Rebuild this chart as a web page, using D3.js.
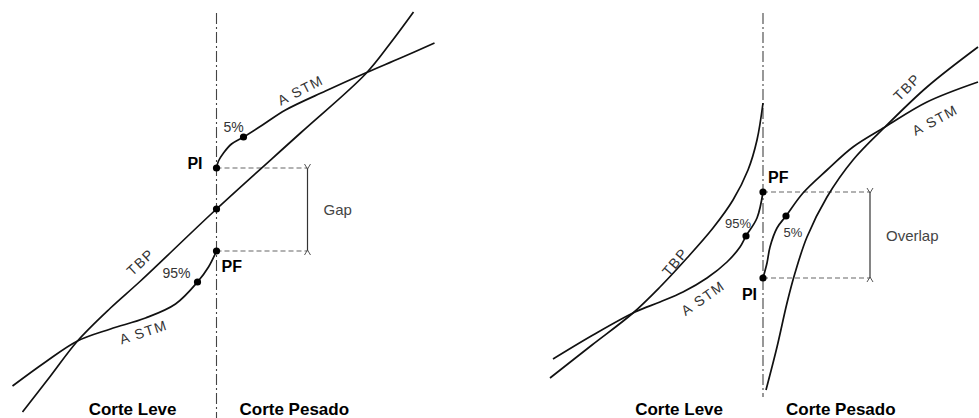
<!DOCTYPE html>
<html>
<head>
<meta charset="utf-8">
<script src="https://cdn.jsdelivr.net/npm/d3@7"></script>
<style>
  html, body { margin: 0; padding: 0; background: #fff; }
  svg { display: block; }
  text { font-family: "Liberation Sans", Arial, Helvetica, sans-serif; }
</style>
</head>
<body>
<svg id="chart" width="979" height="418"></svg>
<script>
// ---- Data: [offset from cut point, temperature level] (arbitrary units) ----
// Left panel (Gap)
const gapTBP = [[-194,6],[-166,42],[-139,77],[-106,110],[-76,137],[0,209],[84,285],[149,344],[174,375],[197,406]];
const gapASTMLight = [[-204,32],[-171,56],[-139,77],[-106,89],[-71,100],[-41,114],[-19,136],[-8,151],[0,167]];
const gapASTMHeavy = [[0,250],[2,257],[7,265],[15,274],[27,281],[46,293],[69,308],[109,327],[149,345],[184,360],[218,375]];
const gapDots = [[0,250],[0,209],[0,167],[27,281],[-19,136]];
const gapPI = 250, gapPF = 167, gapBracketX = 91;

// Right panel (Overlap)
const ovTBPLight = [[-213,40],[-171,73],[-130,105],[-103,131],[-76,160],[-50,190],[-30,218],[-15,248],[-6,278],[0,315]];
const ovASTMLight = [[-210,59],[-170,83],[-128,106],[-103,116],[-80,126],[-56,140],[-36,156],[-23,171],[-17,182],[-6,200],[0,226]];
const ovASTMHeavy = [[0,140],[4,155],[7,171],[14,190],[23,202],[40,225],[64,248],[90,271],[122,291],[164,316],[215,336]];
const ovTBPHeavy = [[3,28],[14,71],[24,115],[32,145],[44,181],[64,221],[90,258],[122,291],[164,331],[215,371]];
const ovDots = [[0,226],[0,140],[-17,182],[23,202]];
const ovPF = 226, ovPI = 140, ovBracketX = 107;

// Labels: [text, x, y, rotation]
const gapLabelsCurve = [["TBP",-76,156,-43],["A STM",84,328,-27],["A STM",-73,86,-18]];
const gapLabelsPct = [["5%",17,291],["95%",-40,145]];
const ovLabelsCurve = [["TBP",-88,156,-50],["A STM",-60,120,-35],["TBP",144,331,-45],["A STM",172,298,-28]];
const ovLabelsPct = [["95%",-25,195],["5%",30,186]];
const sideLabels = ["Corte Leve", "Corte Pesado"];

// ---- Drawing ----
const svg = d3.select("#chart");
svg.append("rect").attr("width",979).attr("height",418).attr("fill","#fff");

function panel(cfg) {
  const x = d3.scaleLinear().domain([-220, 270]).range([cfg.cut - 220, cfg.cut + 270]);
  const y = d3.scaleLinear().domain([0, 418]).range([418, 0]);
  const g = svg.append("g");
  const line = d3.line().x(d => x(d[0])).y(d => y(d[1])).curve(d3.curveCatmullRom.alpha(0.5));

  // cut line (dash-dot)
  g.append("line")
    .attr("x1", x(0)).attr("x2", x(0))
    .attr("y1", y(cfg.cutTop)).attr("y2", y(cfg.cutBottom))
    .attr("stroke", "#444").attr("stroke-width", 1.1)
    .attr("stroke-dasharray", "11,3,2,3");

  // dashed reference lines
  [cfg.hiLevel, cfg.loLevel].forEach(v => {
    g.append("line")
      .attr("x1", x(0)).attr("x2", x(cfg.bracketX))
      .attr("y1", y(v)).attr("y2", y(v))
      .attr("stroke", "#666").attr("stroke-width", 1.2)
      .attr("stroke-dasharray", "5,3");
  });

  // bracket
  const bx = x(cfg.bracketX), top = y(cfg.hiLevel), bot = y(cfg.loLevel);
  g.append("line").attr("x1", bx).attr("x2", bx).attr("y1", top).attr("y2", bot)
    .attr("stroke", "#333").attr("stroke-width", 1.2);
  const fork = d3.line();
  g.append("path").attr("d", fork([[bx-3, top-4],[bx, top+1],[bx+3, top-4]]))
    .attr("fill","none").attr("stroke","#555").attr("stroke-width",1);
  g.append("path").attr("d", fork([[bx-3, bot+4],[bx, bot-1],[bx+3, bot+4]]))
    .attr("fill","none").attr("stroke","#555").attr("stroke-width",1);

  // curves
  cfg.curves.forEach(c => {
    g.append("path").attr("d", line(c))
      .attr("fill", "none").attr("stroke", "#111").attr("stroke-width", 1.7);
  });

  // dots
  g.selectAll("circle.dot").data(cfg.dots).enter().append("circle")
    .attr("cx", d => x(d[0])).attr("cy", d => y(d[1])).attr("r", 3.6).attr("fill", "#000");

  // curve labels
  cfg.curveLabels.forEach(l => {
    g.append("text").text(l[0])
      .attr("transform", `translate(${x(l[1])},${y(l[2])}) rotate(${l[3]})`)
      .attr("text-anchor", "middle").attr("dominant-baseline", "central")
      .attr("font-size", 14).attr("letter-spacing", 1.5).attr("fill", "#333");
  });
  cfg.pctLabels.forEach(l => {
    g.append("text").text(l[0])
      .attr("x", x(l[1])).attr("y", y(l[2])).attr("text-anchor", "middle")
      .attr("dominant-baseline", "central")
      .attr("font-size", cfg.pctSize).attr("fill", "#333");
  });

  // PI / PF
  cfg.points.forEach(p => {
    g.append("text").text(p.t)
      .attr("x", x(p.dx)).attr("y", y(p.v))
      .attr("text-anchor", p.anchor).attr("dominant-baseline", "central")
      .attr("font-size", 16).attr("font-weight", "bold").attr("fill", "#000");
  });

  // Gap / Overlap
  g.append("text").text(cfg.bracketText)
    .attr("x", bx + 16).attr("y", (top + bot) / 2)
    .attr("dominant-baseline", "central")
    .attr("font-size", 15).attr("fill", "#444");

  // side labels
  g.append("text").text(sideLabels[0])
    .attr("x", x(0) - 40).attr("y", 415).attr("text-anchor", "end")
    .attr("font-size", 17).attr("font-weight", "bold").attr("fill", "#000");
  g.append("text").text(sideLabels[1])
    .attr("x", x(0) + 23).attr("y", 415).attr("text-anchor", "start")
    .attr("font-size", 17).attr("font-weight", "bold").attr("fill", "#000");
}

panel({
  cut: 216.5, cutTop: 405, cutBottom: 0,
  hiLevel: gapPI, loLevel: gapPF, bracketX: gapBracketX,
  curves: [gapTBP, gapASTMLight, gapASTMHeavy],
  dots: gapDots,
  curveLabels: gapLabelsCurve, pctLabels: gapLabelsPct, pctSize: 14,
  points: [{t:"PI", dx:-14, v:gapPI+5, anchor:"end"}, {t:"PF", dx:5, v:gapPF-15, anchor:"start"}],
  bracketText: "Gap"
});

panel({
  cut: 763, cutTop: 405, cutBottom: 21,
  hiLevel: ovPF, loLevel: ovPI, bracketX: ovBracketX,
  curves: [ovTBPLight, ovASTMLight, ovASTMHeavy, ovTBPHeavy],
  dots: ovDots,
  curveLabels: ovLabelsCurve, pctLabels: ovLabelsPct, pctSize: 13,
  points: [{t:"PF", dx:5, v:ovPF+15, anchor:"start"}, {t:"PI", dx:-6, v:ovPI-16, anchor:"end"}],
  bracketText: "Overlap"
});
</script>
</body>
</html>
